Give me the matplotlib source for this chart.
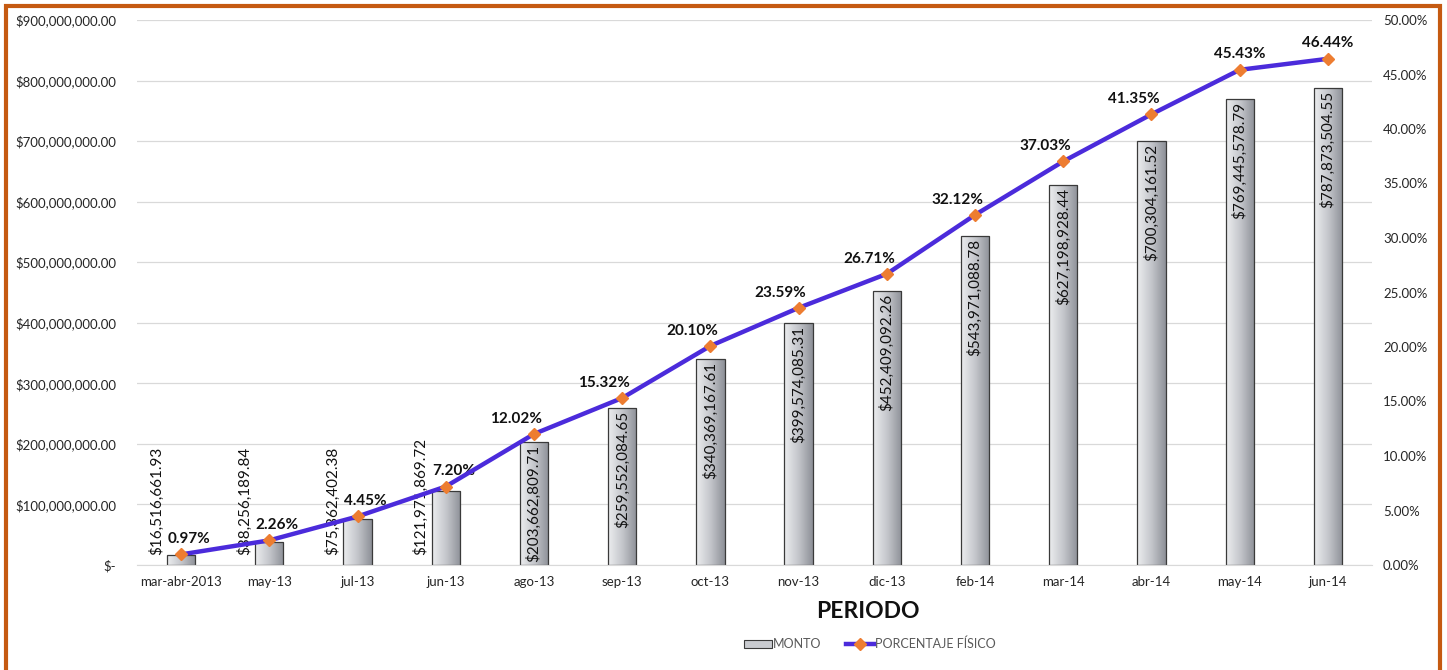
import matplotlib
matplotlib.use("Agg")
import matplotlib.pyplot as plt
import numpy as np
from matplotlib.patches import Rectangle
from matplotlib.lines import Line2D
from matplotlib.ticker import FuncFormatter, MultipleLocator
from matplotlib import transforms

plt.rcParams['font.family'] = ['Lato', 'DejaVu Sans']

periodos = ["mar-abr-2013", "may-13", "jul-13", "jun-13", "ago-13", "sep-13", "oct-13",
            "nov-13", "dic-13", "feb-14", "mar-14", "abr-14", "may-14", "jun-14"]
montos = [16516661.93, 38256189.84, 75362402.38, 121971869.72, 203662809.71, 259552084.65,
          340369167.61, 399574085.31, 452409092.26, 543971088.78, 627198928.44,
          700304161.52, 769445578.79, 787873504.55]
porcentaje = [0.97, 2.26, 4.45, 7.20, 12.02, 15.32, 20.10, 23.59, 26.71, 32.12, 37.03,
              41.35, 45.43, 46.44]

W, H = 1447, 670
fig = plt.figure(figsize=(W / 100, H / 100), dpi=100)
ax = fig.add_axes([137 / W, 1 - 565 / H, (1372 - 137) / W, (565 - 20) / H])
ax2 = ax.twinx()

x = np.arange(len(periodos))
txtcol = '#262626'

# bars with gradient
bars = ax.bar(x, montos, width=0.32, color='#C9CBD0', edgecolor='#3A3A3A', linewidth=0.9, zorder=2)
grad = np.linspace(0, 1, 64).reshape(1, -1)
cmap = matplotlib.colors.LinearSegmentedColormap.from_list('g', ['#ECEDEF', '#C4C6CB', '#8E9198'])
for b in bars:
    bx, by, bw, bh = b.get_x(), b.get_y(), b.get_width(), b.get_height()
    im = ax.imshow(grad, extent=[bx, bx + bw, by, by + bh], aspect='auto', cmap=cmap, zorder=2.1)
    im.set_clip_path(b)
    b.set_facecolor('none')
    b.set_zorder(2.2)

ax.set_xlim(-0.5, len(periodos) - 0.5)
ax.set_ylim(0, 900_000_000)
ax.yaxis.set_major_locator(MultipleLocator(100_000_000))

def money(v, pos=None):
    if v == 0:
        return '$-'
    return '${:,.2f}'.format(v)

ax.yaxis.set_major_formatter(FuncFormatter(money))
ax.grid(axis='y', color='#D9D9D9', linewidth=0.9, zorder=0)
ax.set_axisbelow(True)
for s in ax.spines.values():
    s.set_visible(False)
for s in ax2.spines.values():
    s.set_visible(False)
ax.spines['bottom'].set_visible(True)
ax.spines['bottom'].set_color('#D9D9D9')
ax.tick_params(axis='both', length=0, labelsize=9.5, colors=txtcol, pad=8)
ax.set_xticks(x)
ax.set_xticklabels(periodos)
ax.tick_params(axis='y', pad=15)

# bar labels
for i, v in enumerate(montos):
    if i < 4:
        tr = ax.transData + transforms.ScaledTranslation(-25 / 100, 10 / 100, fig.dpi_scale_trans)
        ax.text(i, 0, money(v), rotation=90, ha='center', va='bottom', fontsize=11,
                color='#111111', transform=tr, zorder=5)
    else:
        tr = ax.transData + transforms.ScaledTranslation(0, -3 / 100, fig.dpi_scale_trans)
        ax.text(i, v, money(v), rotation=90, ha='center', va='top', fontsize=11,
                color='#111111', transform=tr, zorder=5)

# line
ax2.plot(x, porcentaje, color='#4B2BDB', linewidth=3.2, zorder=4,
         marker='D', markersize=6.5, markerfacecolor='#ED7D31', markeredgecolor='#ED7D31')
ax2.set_ylim(0, 50)
ax2.yaxis.set_major_locator(MultipleLocator(5))
ax2.yaxis.set_major_formatter(FuncFormatter(lambda v, p: '{:.2f}%'.format(v)))
ax2.tick_params(axis='y', length=0, labelsize=9.5, colors=txtcol, pad=8)
ax.set_zorder(1)
ax2.set_zorder(2)

for i, p in enumerate(porcentaje):
    if i < 4:
        dx = 8
    elif i < 12:
        dx = -18
    else:
        dx = 0
    ax2.annotate('{:.2f}%'.format(p), (i, p), xytext=(dx * 0.72, 6), textcoords='offset points',
                 ha='center', va='bottom', fontsize=11, fontweight='bold', color='#111111')

fig.text(868 / W, 1 - 612 / H, 'PERIODO', ha='center', va='center',
         fontsize=16.5, fontweight='bold', color='#111111')

handles = [Rectangle((0, 0), 1, 1, facecolor='#C9CBD0', edgecolor='#3A3A3A', linewidth=0.8),
           Line2D([0], [0], color='#4B2BDB', linewidth=3.2, marker='D', markersize=6,
                  markerfacecolor='#ED7D31', markeredgecolor='#ED7D31')]
leg = fig.legend(handles, ['MONTO', 'PORCENTAJE FÍSICO'], loc='center',
                 bbox_to_anchor=(870 / W, 1 - 644 / H), ncol=2, frameon=False,
                 fontsize=9, handlelength=2.2, handletextpad=0.1, columnspacing=2.0)
for t in leg.get_texts():
    t.set_color('#595959')

fig.patches.append(Rectangle((6 / W, -0.02), (1440 - 6) / W, (1 - 6 / H) + 0.02,
                             transform=fig.transFigure, fill=False, edgecolor='#C55A11',
                             linewidth=3, zorder=10))

fig.savefig('out.png', dpi=100)
